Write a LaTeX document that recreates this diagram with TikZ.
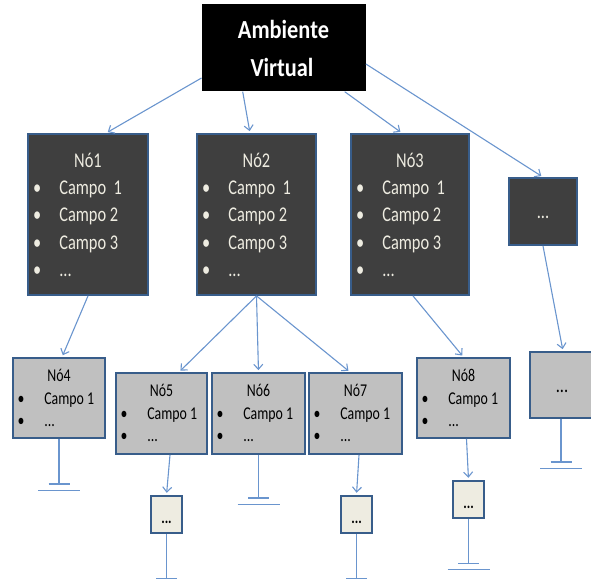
\documentclass[tikz,border=0pt]{standalone}
\usepackage{fontspec}
\setmainfont{Carlito}
\newfontfamily\narrowfont[FakeStretch=0.78]{Carlito}
\newfontfamily\lnarrowfont[FakeStretch=0.77]{Carlito}
\newfontfamily\rootfont[FakeStretch=0.86]{Carlito}
\usetikzlibrary{arrows.meta,calc}
\definecolor{edgeblue}{HTML}{385D8A}
\definecolor{linkblue}{HTML}{6A95CE}
\definecolor{darkfill}{HTML}{3F3F3F}
\definecolor{lightfill}{HTML}{C0C0C0}
\definecolor{creamfill}{HTML}{EEECE1}
\definecolor{creamtext}{HTML}{EEECE1}
\tikzset{
  darkbox/.style={draw=edgeblue, line width=1.8pt, fill=darkfill, inner sep=0pt},
  lightbox/.style={draw=edgeblue, line width=1.8pt, fill=lightfill, inner sep=0pt},
  smallbox/.style={draw=edgeblue, line width=2.4pt, fill=creamfill, inner sep=0pt, minimum width=31pt, minimum height=37pt},
  rootbox/.style={fill=black, inner sep=0pt},
  dtext/.style={inner sep=0pt, text=creamtext, font=\narrowfont\fontsize{21}{24}\selectfont},
  ltext/.style={inner sep=0pt, text=black, font=\lnarrowfont\fontsize{18}{20}\selectfont},
  roottext/.style={inner sep=0pt, text=white, font=\rootfont\bfseries\fontsize{26}{30}\selectfont},
  link/.style={draw=linkblue, line width=1.1pt, -{Straight Barb[length=5pt,width=9pt]}, shorten >=2pt},
  gline/.style={draw=linkblue, line width=1.3pt},
}
\newcommand{\darklist}[2]{%
  \node[dtext, anchor=base] (#1t) at ($(#1.north)+(0,34)$) {#2};
  \node[dtext, anchor=base] (#1b1) at ($(#1.north west)+(10,61)$) {\textbullet};
  \node[dtext, anchor=base west] (#1c1) at ($(#1.north west)+(32,61)$) {Campo~ 1};
  \node[dtext, anchor=base] (#1b2) at ($(#1.north west)+(10,88.5)$) {\textbullet};
  \node[dtext, anchor=base west] (#1c2) at ($(#1.north west)+(32,88.5)$) {Campo 2};
  \node[dtext, anchor=base] (#1b3) at ($(#1.north west)+(10,116)$) {\textbullet};
  \node[dtext, anchor=base west] (#1c3) at ($(#1.north west)+(32,116)$) {Campo 3};
  \node[dtext, anchor=base] (#1b4) at ($(#1.north west)+(10,143.5)$) {\textbullet};
  \node[dtext, anchor=base west] (#1c4) at ($(#1.north west)+(32,143.5)$) {...};
}
\newcommand{\lightlist}[2]{%
  \node[ltext, anchor=base] (#1t) at ($(#1.north)+(0,24)$) {#2};
  \node[ltext, anchor=base] (#1b1) at ($(#1.north west)+(9,47)$) {\textbullet};
  \node[ltext, anchor=base west] (#1c1) at ($(#1.north west)+(32,47)$) {Campo 1};
  \node[ltext, anchor=base] (#1b2) at ($(#1.north west)+(9,69)$) {\textbullet};
  \node[ltext, anchor=base west] (#1c2) at ($(#1.north west)+(32,69)$) {...};
}
\newcommand{\groundsym}[3]{%
  \draw[gline] (#1) -- ++(0,#2) coordinate (#3);
  \draw[gline] ([xshift=-10.5pt]#3) -- ([xshift=10.5pt]#3);
  \draw[gline] ([xshift=-21pt,yshift=-6.5pt]#3) -- ([xshift=21pt,yshift=-6.5pt]#3);
}
\begin{document}
\begin{tikzpicture}[x=1pt,y=-1pt]
\useasboundingbox (0,0) rectangle (591,583);
% root
\node[rootbox, minimum width=164pt, minimum height=87pt] (root) at (283.7,48) {};
\node[roottext, anchor=base] (rootl1) at (283.5,38.5) {Ambiente};
\node[roottext, anchor=base] (rootl2) at (282,77) {Virtual};
% level 1
\node[darkbox, minimum width=120pt, minimum height=161pt] (n1) at (88,214.5) {};
\node[darkbox, minimum width=119pt, minimum height=161pt] (n2) at (256.5,214.5) {};
\node[darkbox, minimum width=118pt, minimum height=161pt] (n3) at (410,214.5) {};
\node[darkbox, minimum width=68pt, minimum height=67pt] (d1) at (543,211.5) {};
\darklist{n1}{Nó1}
\darklist{n2}{Nó2}
\darklist{n3}{Nó3}
\node[dtext, anchor=base] (d1t) at ($(d1.center)+(0,7)$) {...};
% level 2
\node[lightbox, minimum width=92pt, minimum height=80pt] (n4) at (59,398) {};
\node[lightbox, minimum width=91pt, minimum height=81pt] (n5) at (161.5,413.5) {};
\node[lightbox, minimum width=93pt, minimum height=81pt] (n6) at (258.5,413.5) {};
\node[lightbox, minimum width=93pt, minimum height=81pt] (n7) at (355.5,413.5) {};
\node[lightbox, minimum width=93pt, minimum height=80pt] (n8) at (463.5,398) {};
\node[lightbox, minimum width=66pt, minimum height=66pt] (d2) at (563,385) {};
\lightlist{n4}{Nó4}
\lightlist{n5}{Nó5}
\lightlist{n6}{Nó6}
\lightlist{n7}{Nó7}
\lightlist{n8}{Nó8}
\node[dtext, text=black, anchor=base] (d2t) at ($(d2.center)+(-1,7)$) {...};
% level 3
\node[smallbox] (s1) at (166.5,514.5) {};
\node[smallbox] (s2) at (356.5,514.5) {};
\node[smallbox] (s3) at (468.5,499.5) {};
\node[ltext, anchor=base, font=\lnarrowfont\bfseries\fontsize{17}{20}\selectfont] (s1t) at ($(s1.center)+(0,8.5)$) {...};
\node[ltext, anchor=base, font=\lnarrowfont\bfseries\fontsize{17}{20}\selectfont] (s2t) at ($(s2.center)+(0,8.5)$) {...};
\node[ltext, anchor=base, font=\lnarrowfont\bfseries\fontsize{17}{20}\selectfont] (s3t) at ($(s3.center)+(0,8.5)$) {...};
% links
\draw[link] ([yshift=-30pt]root.west) -- ([xshift=18pt]n1.north);
\draw[link] ([xshift=-41pt]root.south) -- ([xshift=-6.5pt]n2.north);
\draw[link] ([xshift=61pt]root.south) -- ([xshift=-8pt]n3.north);
\draw[link] ([yshift=-16pt]root.east) -- (d1.north);
\draw[link] (n1.south) -- ([xshift=3pt]n4.north);
\draw[link] (n2.south) -- ([xshift=17.5pt]n5.north);
\draw[link] (n2.south) -- (n6.north);
\draw[link] (n2.south) -- ([xshift=-5.5pt]n7.north);
\draw[link] ([xshift=3pt]n3.south) -- (n8.north);
\draw[link] (d1.south) -- (d2.north);
\draw[link] ([xshift=8.5pt]n5.south) -- (s1.north);
\draw[link] ([xshift=3.5pt]n7.south) -- (s2.north);
\draw[link] ([xshift=3pt]n8.south) -- (s3.north);
% grounds
\groundsym{n4.south}{45}{g4}
\groundsym{n6.south}{43}{g6}
\groundsym{s1.south}{44}{gs1}
\groundsym{s2.south}{44}{gs2}
\groundsym{s3.south}{44}{gs3}
\groundsym{[xshift=-2pt]d2.south}{43}{gd2}
\end{tikzpicture}
\end{document}
